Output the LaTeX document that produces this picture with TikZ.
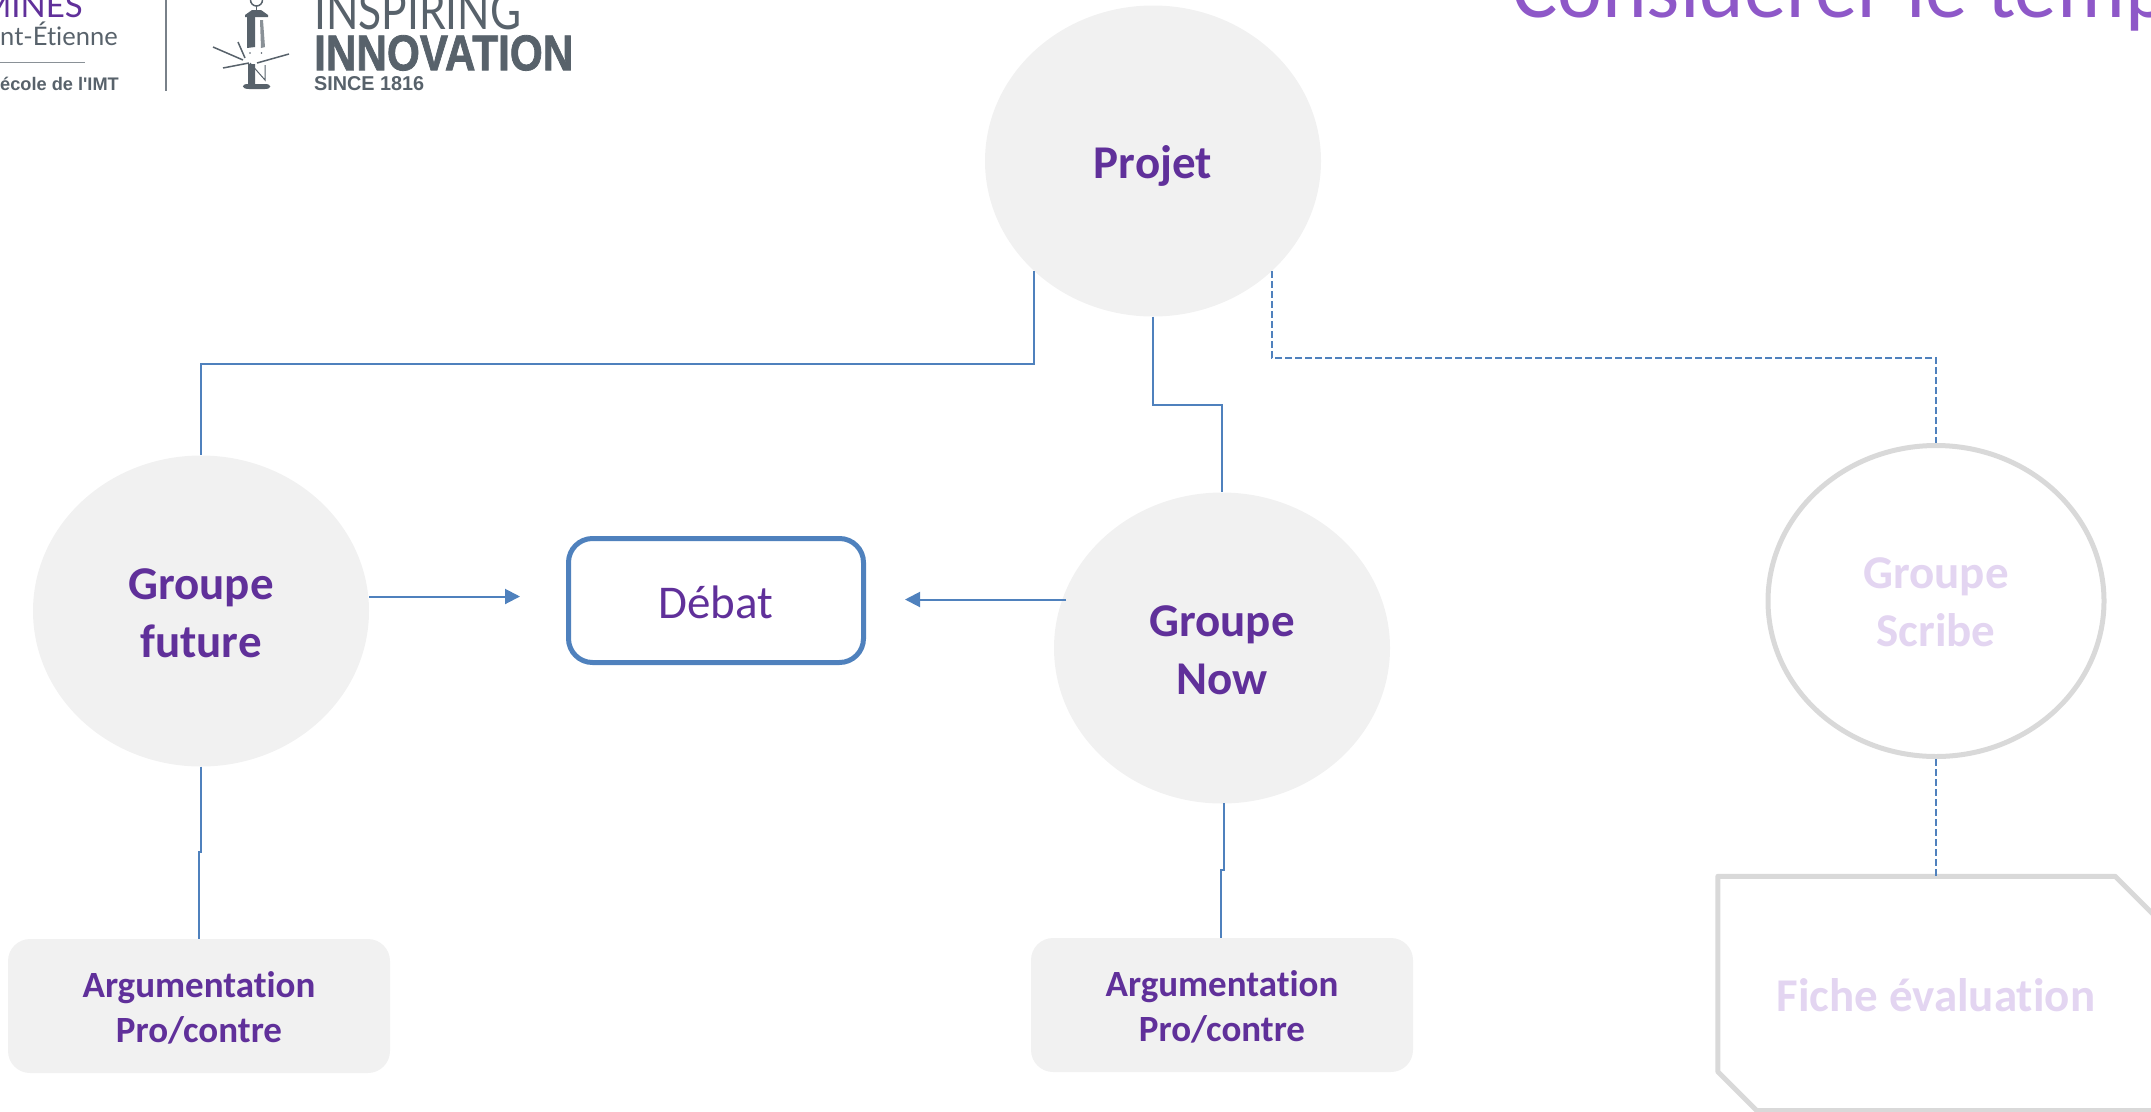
\documentclass[tikz,border=0pt]{standalone}
\usepackage{graphicx}
\usepackage{fontspec}
\setmainfont{Carlito}[Ligatures=NoCommon]
\newfontfamily\logofont{Liberation Sans}
\newfontfamily\logoheavy[FakeBold=1.6]{Liberation Sans Bold}
\newfontfamily\logothin{Lato}[Ligatures=NoCommon]
\usetikzlibrary{shapes.geometric,arrows.meta}
\definecolor{purpleD}{HTML}{60309A}
\definecolor{purpleT}{HTML}{8E58C8}
\definecolor{purpleL}{HTML}{E3D5F1}
\definecolor{blueC}{HTML}{4F81BD}
\definecolor{greyF}{HTML}{F1F1F1}
\definecolor{greyS}{HTML}{D9D9D9}
\definecolor{logoG}{HTML}{58626B}
\newcommand{\pad}[1]{\rule{0pt}{#1pt}}
\tikzset{
  x=1pt,y=-1pt,
  bubble/.style={ellipse,fill=greyF,draw=none,inner sep=0pt,minimum width=336pt,minimum height=311pt,
    text=purpleD,align=center,font=\fontsize{47}{58}\selectfont\bfseries},
  ghost/.style={ellipse,draw=greyS,line width=5pt,fill=white,inner sep=0pt,minimum width=336pt,minimum height=311pt,
    text=purpleL,align=center,font=\fontsize{47}{58}\selectfont\bfseries},
  argbox/.style={rectangle,rounded corners=22pt,fill=greyF,inner sep=0pt,minimum width=382pt,minimum height=134pt,
    text=purpleD,align=center,font=\fontsize{37}{45}\selectfont\bfseries},
  debatbox/.style={rectangle,rounded corners=24pt,draw=blueC,line width=5pt,inner sep=0pt,minimum width=295pt,minimum height=124pt,
    text=purpleD,font=\fontsize{47}{58}\selectfont},
  sheet/.style={rectangle,inner sep=0pt,minimum width=436pt,minimum height=234pt,text=purpleL,font=\fontsize{47}{58}\selectfont\bfseries},
  link/.style={draw=blueC,line width=2pt},
  dashlink/.style={link,dash pattern=on 7pt off 3pt},
  arrowlink/.style={link,-{Triangle[length=15pt,width=15pt]}},
  logotext/.style={inner sep=0pt,text=logoG},
  logoline/.style={draw=logoG,line width=1.5pt},
}
\begin{document}
\begin{tikzpicture}
\useasboundingbox (0,0) rectangle (2151,1111);
\clip (0,0) rectangle (2151,1111);
% title
\node[anchor=base west,inner sep=0pt,text=purpleT,font=\fontsize{85}{100}\selectfont] (title) at (1512,17) {Considérer le temp};
% logos
\node[anchor=base east,inner sep=0pt,text=purpleD,font=\logothin\fontsize{33}{33}\selectfont] (mines) at (83,17) {MINES};
\node[anchor=base west,inner sep=0pt,text=logoG,font=\logothin\fontsize{25.5}{30}\selectfont] (ste) at (0,45) {nt-Étienne};
\coordinate (ruleA) at (0,62); \coordinate (ruleB) at (85,62);
\draw[draw=logoG!70,line width=1pt] (ruleA) -- (ruleB);
\node[anchor=base west,inner sep=0pt,text=logoG,font=\logofont\bfseries\fontsize{18.2}{20}\selectfont] (imt) at (0,90) {école de l'IMT};
\coordinate (sepA) at (166,0); \coordinate (sepB) at (166,91);
\draw[draw=logoG!80,line width=1.2pt] (sepA) -- (sepB);
\node[anchor=south west,logotext] (insp) at (314,30) {\resizebox{207pt}{38pt}{\logothin INSPIRING}};
\node[anchor=north west,logotext] (innov) at (314,35) {\resizebox{259pt}{35pt}{\logoheavy INNOVATION}};
\node[anchor=north west,logotext] (since) at (314,76) {\resizebox{110pt}{14pt}{\logofont\bfseries SINCE 1816}};
% lighthouse
\draw[logoline] (250.5,0) arc (180:0:6);
\draw[logoline] (256.5,6) -- (256.5,10);
\fill[logoG] (245,15) -- (252,10) -- (261,10) -- (268,15) -- (268,17) -- (245,17) -- cycle;
\fill[logoG] (247,17) -- (255,17) -- (255,47) -- (247,48) -- cycle;
\fill[logoG!70] (260,20) -- (263,20) -- (265,47) -- (261,48) -- cycle;
\fill[logoG] (250,53) circle (.8) (261.5,53) circle (.8);
\fill[logoG] (248,64) -- (255,64) -- (255,84) -- (265,84) .. controls (272,84) and (272,89) .. (265,89) -- (249,89) .. controls (241,89) and (241,84) .. (248,84) -- cycle;
\draw[logoline] (213,47) -- (243,60) (238,42) -- (245,58) (289,54) -- (257,63) (223,68) -- (249,63);
\draw[draw=logoG,line width=1pt] (250,63) -- (265,80) -- (265,65);
% nodes
\node[bubble] (projet) at (1153,161) {\pad{42}Projet};
\node[bubble] (future) at (201,611) {\pad{36}Groupe\\future};
\node[bubble] (now) at (1222,648) {\pad{36}Groupe\\Now};
\node[ghost] (scribe) at (1936,601) {\pad{34}Groupe\\Scribe};
\node[debatbox] (debat) at (716,600.5) {\pad{36}Débat};
\node[argbox] (argL) at (199,1006) {\pad{30}Argumentation\\Pro/contre};
\node[argbox] (argR) at (1222,1005) {\pad{30}Argumentation\\Pro/contre};
\node[sheet] (fiche) at (1936,993.5) {\pad{36}Fiche évaluation};
\draw[draw=greyS,line width=5pt,line join=round]
  (fiche.north west) -- ([xshift=-39pt]fiche.north east) -- ([yshift=-39pt]fiche.north east)
  -- (fiche.south east) -- ([xshift=39pt]fiche.south west) -- ([yshift=39pt]fiche.south west) -- cycle;
% connectors
\coordinate (pf0) at (1034,271);
\coordinate (pf1) at (1034,363.5);
\coordinate (pf2) at (201,363.5);
\draw[link] (pf0) -- (pf1) -- (pf2) -- (future.north);
\coordinate (pn1) at (1153,405);
\coordinate (pn2) at (1222,405);
\draw[link] (projet.south) -- (pn1) -- (pn2) -- (now.north);
\coordinate (ps0) at (1272,271);
\coordinate (ps1) at (1272,358);
\coordinate (ps2) at (1936,358);
\draw[dashlink] (ps0) -- (ps1) -- (ps2) -- (scribe.north);
\coordinate (fa1) at (201,852);
\coordinate (fa2) at (199,852);
\draw[link] (future.south) -- (fa1) -- (fa2) -- (argL.north);
\coordinate (na1) at (1224,870);
\coordinate (na2) at (1221,870);
\coordinate (na0) at (1224,803);
\coordinate (na3) at (1221,938);
\draw[link] (na0) -- (na1) -- (na2) -- (na3);
\draw[dashlink] (scribe.south) -- (fiche.north);
\coordinate (fd) at (520,596.5);
\coordinate (fd0) at (369,596.5);
\draw[arrowlink] (fd0) -- (fd);
\coordinate (nd) at (905,599.5);
\coordinate (nd0) at (1066,599.5);
\draw[arrowlink] (nd0) -- (nd);
\end{tikzpicture}
\end{document}
